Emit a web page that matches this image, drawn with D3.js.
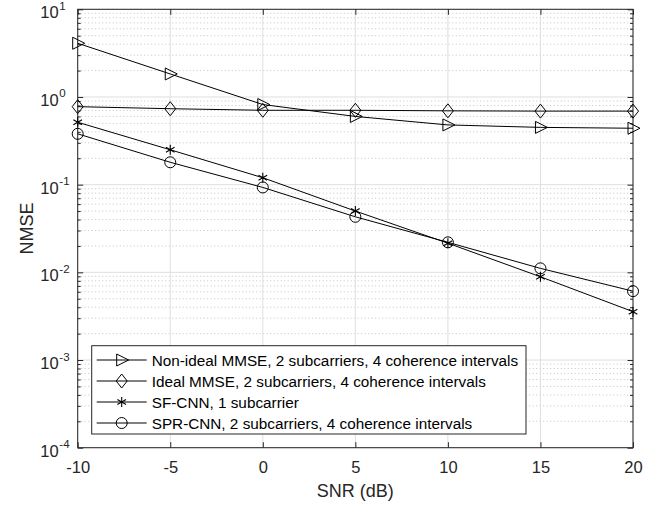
<!DOCTYPE html>
<html><head><meta charset="utf-8">
<script src="https://cdn.jsdelivr.net/npm/d3@7"></script>
<style>body{margin:0;background:#fff;} svg{display:block;}</style>
</head><body>
<svg id="c" width="658" height="506"></svg>
<script>
const snr = [-10, -5, 0, 5, 10, 15, 20];
const nonIdealMMSE = [4.1, 1.83, 0.82, 0.60, 0.48, 0.45, 0.44];
const idealMMSE = [0.775, 0.735, 0.705, 0.705, 0.695, 0.69, 0.69];
const sfCNN = [0.515, 0.25, 0.12, 0.05, 0.0215, 0.0089, 0.00356];
const sprCNN = [0.38, 0.18, 0.093, 0.043, 0.022, 0.0111, 0.0061];
const seriesNames = [
  "Non-ideal MMSE, 2 subcarriers, 4 coherence intervals",
  "Ideal MMSE, 2 subcarriers, 4 coherence intervals",
  "SF-CNN, 1 subcarrier",
  "SPR-CNN, 2 subcarriers, 4 coherence intervals"
];
const markers = ["triangle", "diamond", "star", "circle"];
const xTicks = [-10, -5, 0, 5, 10, 15, 20];
const yExps = [-4, -3, -2, -1, 0, 1];

const series = [nonIdealMMSE, idealMMSE, sfCNN, sprCNN];
const L = 77.7, R = 633, T = 9.3, B = 447.7;
const svg = d3.select("#c");
const font = "'Liberation Sans', Arial, Helvetica, sans-serif";
const x = d3.scaleLinear().domain([-10, 20]).range([L, R]);
const y = d3.scaleLog().domain([1e-4, 10]).range([B, T]);
const axisCol = "#262626";

// minor grid
const minorVals = [];
yExps.slice(0, -1).forEach(e => { for (let k = 2; k <= 9; k++) minorVals.push(k * Math.pow(10, e)); });
svg.append("g").selectAll("line").data(minorVals).join("line")
  .attr("x1", L).attr("x2", R).attr("y1", d => y(d)).attr("y2", d => y(d))
  .attr("stroke", "#c4c4c4").attr("stroke-width", 1).attr("stroke-dasharray", "1,2.5");
// major grid
svg.append("g").selectAll("line").data(yExps.map(e => Math.pow(10, e))).join("line")
  .attr("x1", L).attr("x2", R).attr("y1", d => y(d)).attr("y2", d => y(d))
  .attr("stroke", "#dfdfdf").attr("stroke-width", 1);
svg.append("g").selectAll("line").data(xTicks).join("line")
  .attr("x1", d => x(d)).attr("x2", d => x(d)).attr("y1", T).attr("y2", B)
  .attr("stroke", "#dfdfdf").attr("stroke-width", 1);

// axes via d3 axis
const tl = 5.5;
const gx = svg.append("g").attr("transform", `translate(0,${B})`)
  .call(d3.axisBottom(x).tickValues(xTicks).tickSize(-tl).tickPadding(0).tickFormat(d => String(d)));
const gxt = svg.append("g").attr("transform", `translate(0,${T})`)
  .call(d3.axisTop(x).tickValues(xTicks).tickSize(-tl).tickFormat(""));
const gy = svg.append("g").attr("transform", `translate(${L},0)`)
  .call(d3.axisLeft(y).tickValues(yExps.map(e => Math.pow(10, e))).tickSize(-tl).tickFormat(""));
const gyr = svg.append("g").attr("transform", `translate(${R},0)`)
  .call(d3.axisRight(y).tickValues(yExps.map(e => Math.pow(10, e))).tickSize(-tl).tickFormat(""));
const gym = svg.append("g").attr("transform", `translate(${L},0)`)
  .call(d3.axisLeft(y).tickValues(minorVals).tickSize(-3).tickFormat(""));
const gymr = svg.append("g").attr("transform", `translate(${R},0)`)
  .call(d3.axisRight(y).tickValues(minorVals).tickSize(-3).tickFormat(""));
[gx, gxt, gy, gyr, gym, gymr].forEach(g => {
  g.select(".domain").remove();
  g.selectAll("line").attr("stroke", axisCol).attr("stroke-width", 1);
  g.selectAll("text").attr("fill", axisCol).style("font-family", font).style("font-size", "16.5px");
});
gx.selectAll("text").attr("y", 25).attr("dy", null);
// y tick labels with superscripts
gy.selectAll(".tick").each(function(d) {
  const e = Math.round(Math.log10(d));
  d3.select(this).append("text").attr("x", -19).attr("y", 8.6)
    .attr("text-anchor", "end").attr("fill", axisCol)
    .style("font-family", font).style("font-size", "16.5px").text("10");
  d3.select(this).append("text").attr("x", -18.4).attr("y", 0)
    .attr("text-anchor", "start").attr("fill", axisCol)
    .style("font-family", font).style("font-size", "11.5px").text(e);
});
// box
svg.append("rect").attr("x", L).attr("y", T).attr("width", R - L).attr("height", B - T)
  .attr("fill", "none").attr("stroke", axisCol).attr("stroke-width", 1);

// marker generator
function drawMarker(g, type, cx, cy) {
  if (type === "triangle") {
    g.append("path").attr("d", `M${cx-5},${cy-6}L${cx+7},${cy}L${cx-5},${cy+6}Z`)
      .attr("fill", "none").attr("stroke", "#000").attr("stroke-width", 1);
  } else if (type === "diamond") {
    g.append("path").attr("d", `M${cx},${cy-7}L${cx+5.5},${cy}L${cx},${cy+7}L${cx-5.5},${cy}Z`)
      .attr("fill", "none").attr("stroke", "#000").attr("stroke-width", 1);
  } else if (type === "circle") {
    g.append("circle").attr("cx", cx).attr("cy", cy).attr("r", 5.5)
      .attr("fill", "none").attr("stroke", "#000").attr("stroke-width", 1);
  } else {
    const r = 5;
    let d = `M${cx},${cy-r}L${cx},${cy+r}`;
    [30, 150].forEach(a => {
      const rad = a * Math.PI / 180;
      d += `M${cx - r*Math.cos(rad)},${cy - r*Math.sin(rad)}L${cx + r*Math.cos(rad)},${cy + r*Math.sin(rad)}`;
    });
    g.append("path").attr("d", d).attr("stroke", "#000").attr("stroke-width", 1.1).attr("fill", "none");
  }
}

const line = d3.line().x((d, i) => x(snr[i])).y(d => y(d));
series.forEach((s, k) => {
  const g = svg.append("g");
  g.append("path").datum(s).attr("d", line).attr("fill", "none").attr("stroke", "#000").attr("stroke-width", 1);
  s.forEach((v, i) => drawMarker(g, markers[k], x(snr[i]), y(v)));
});

// legend
const lg = svg.append("g");
lg.append("rect").attr("x", 91.7).attr("y", 345.7).attr("width", 434.3).attr("height", 88.3)
  .attr("fill", "#fff").attr("stroke", axisCol).attr("stroke-width", 1);
seriesNames.forEach((n, k) => {
  const cy = 360 + k * 21;
  lg.append("line").attr("x1", 96.7).attr("x2", 146.7).attr("y1", cy).attr("y2", cy)
    .attr("stroke", "#000").attr("stroke-width", 1);
  drawMarker(lg, markers[k], 121.7, cy);
  lg.append("text").attr("x", 151.7).attr("y", cy).attr("dy", "0.36em")
    .style("font-family", font).style("font-size", "15.3px").attr("fill", "#000").text(n);
});

// axis labels
svg.append("text").attr("x", (L + R) / 2).attr("y", 497).attr("text-anchor", "middle")
  .style("font-family", font).style("font-size", "18px").attr("fill", axisCol).text("SNR (dB)");
svg.append("text").attr("transform", `translate(33,${(T + B) / 2}) rotate(-90)`).attr("text-anchor", "middle")
  .style("font-family", font).style("font-size", "18px").attr("fill", axisCol).text("NMSE");
</script>
</body></html>
